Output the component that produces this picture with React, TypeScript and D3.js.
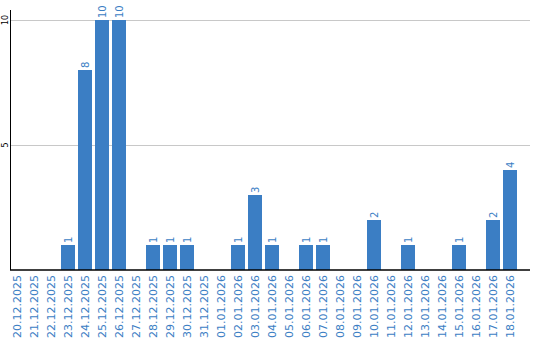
import React from "react";
import * as d3 from "d3";

const dates = [
  "20.12.2025", "21.12.2025", "22.12.2025", "23.12.2025", "24.12.2025",
  "25.12.2025", "26.12.2025", "27.12.2025", "28.12.2025", "29.12.2025",
  "30.12.2025", "31.12.2025", "01.01.2026", "02.01.2026", "03.01.2026",
  "04.01.2026", "05.01.2026", "06.01.2026", "07.01.2026", "08.01.2026",
  "09.01.2026", "10.01.2026", "11.01.2026", "12.01.2026", "13.01.2026",
  "14.01.2026", "15.01.2026", "16.01.2026", "17.01.2026", "18.01.2026",
];
const counts = [
  0, 0, 0, 1, 8, 10, 10, 0, 1, 1,
  1, 0, 0, 1, 3, 1, 0, 1, 1, 0,
  0, 2, 0, 1, 0, 0, 1, 0, 2, 4,
];
const yTicks = [5, 10];

const W = 540;
const H = 340;
const BLUE = "#3b7ec4";
const FONT = "'DejaVu Sans', Verdana, sans-serif";

export default function App() {
  const x = d3.scaleBand<string>().domain(dates).range([10, 517]).paddingInner(3 / 17).paddingOuter(0);
  const y = d3.scaleLinear().domain([0, 10]).range([270, 20]);
  const bw = x.bandwidth();

  return (
    <svg width={W} height={H} style={{ position: "absolute", left: 0, top: 0, background: "#fff" }}>
      {yTicks.map((t) => (
        <g key={t}>
          <line x1={11} x2={530} y1={Math.round(y(t)) + 0.5} y2={Math.round(y(t)) + 0.5} stroke="#c8c8c8" strokeWidth={1} />
          <text
            transform={`translate(5,${y(t)}) rotate(-90)`}
            textAnchor="middle"
            dy="0.35em"
            fontSize={8}
            fontFamily={FONT}
            fill="#000"
          >
            {t}
          </text>
        </g>
      ))}
      {dates.map((d, i) => {
        const v = counts[i];
        const bx = x(d) as number;
        const cx = bx + bw / 2;
        return (
          <g key={d}>
            {v > 0 && (
              <rect x={bx} y={y(v)} width={bw} height={y(0) - y(v)} fill={BLUE} />
            )}
            {v > 0 && (
              <text
                transform={`translate(${cx},${y(v) - 2}) rotate(-90)`}
                textAnchor="start"
                dy="0.35em"
                fontSize={10}
                fontFamily={FONT}
                fill={BLUE}
              >
                {v}
              </text>
            )}
            <text
              transform={`translate(${cx},275) rotate(-90)`}
              textAnchor="end"
              dy="0.35em"
              fontSize={11}
              fontFamily={FONT}
              fill={BLUE}
            >
              {d}
            </text>
          </g>
        );
      })}
      <line x1={10.5} x2={10.5} y1={10} y2={270} stroke="#000" strokeWidth={1} />
      <line x1={10} x2={530} y1={270} y2={270} stroke="#000" strokeWidth={1.5} />
    </svg>
  );
}
